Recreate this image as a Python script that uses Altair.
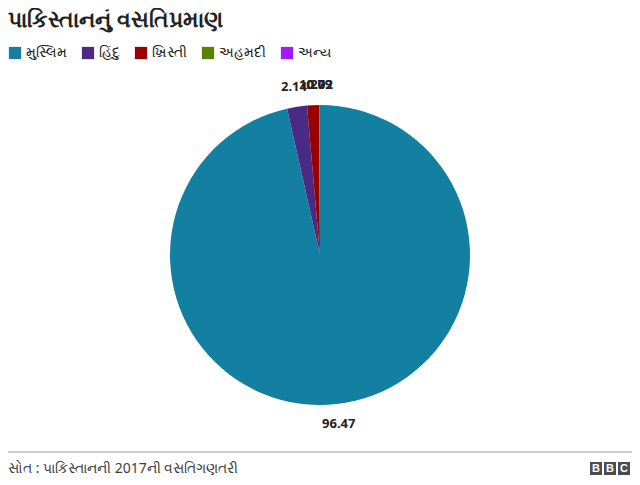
import altair as alt
import pandas as pd

categories = ["મુસ્લિમ", "હિંદુ", "ખ્રિસ્તી", "અહમદી", "અન્ય"]
values = [96.47, 2.14, 1.27, 0.09, 0.02]
colors = ["#1380A1", "#4B2A86", "#990000", "#588300", "#A21AFF"]
title_text = "પાકિસ્તાનનું વસતિપ્રમાણ"
source_text = "સોત : પાકિસ્તાનની 2017ની વસતિગણતરી"

FONT = "Noto Sans"

df = pd.DataFrame({"cat": categories, "val": values, "ord": list(range(len(categories)))})
df["label"] = [f"{v:.2f}" for v in values]

W, H = 624, 469
CX, CY = 312, 247

color = alt.Color(
    "cat:N",
    scale=alt.Scale(domain=categories, range=colors),
    sort=categories,
    legend=alt.Legend(
        title=None,
        orient="none",
        legendX=0,
        legendY=38,
        direction="horizontal",
        symbolType="square",
        symbolSize=150,
        symbolStrokeWidth=0,
        labelFontSize=14,
        labelFont=FONT,
        labelColor="#222222",
        columnPadding=14,
        symbolOpacity=1,
    ),
)

base = alt.Chart(df).encode(
    theta=alt.Theta("val:Q", stack=True),
    order=alt.Order("ord:Q"),
)

pie = base.mark_arc(radius=150, x=CX, y=CY).encode(color=color)

labels = base.mark_text(
    radius=170, x=CX, y=CY, fontSize=13, fontWeight="bold", font=FONT, color="#222222"
).encode(text="label:N")

title = alt.Chart(pd.DataFrame({"t": [title_text]})).mark_text(
    align="left", baseline="middle", fontSize=22, fontWeight="bold", font=FONT, color="#222222"
).encode(text="t:N", x=alt.value(0), y=alt.value(12))

rule = alt.Chart(pd.DataFrame({"a": [0]})).mark_rule(color="#999999", strokeWidth=1).encode(
    x=alt.value(0), x2=alt.value(W), y=alt.value(444)
)

source = alt.Chart(pd.DataFrame({"t": [source_text]})).mark_text(
    align="left", baseline="middle", fontSize=14, font=FONT, color="#404040"
).encode(text="t:N", x=alt.value(0), y=alt.value(461))

logo_layers = []
for i, letter in enumerate(["B", "B", "C"]):
    x0 = 582 + i * 14
    logo_layers.append(
        alt.Chart(pd.DataFrame({"t": [letter]})).mark_rect(color="#4d4d4d").encode(
            x=alt.value(x0), x2=alt.value(x0 + 12), y=alt.value(454), y2=alt.value(467)
        )
    )
    logo_layers.append(
        alt.Chart(pd.DataFrame({"t": [letter]})).mark_text(
            align="center", baseline="middle", fontSize=11, fontWeight="bold", font="Liberation Sans", color="white"
        ).encode(text="t:N", x=alt.value(x0 + 6), y=alt.value(461))
    )

chart = alt.layer(pie, labels, title, rule, source, *logo_layers).properties(
    width=W, height=H, autosize=alt.AutoSizeParams(type="none"), padding=0, background="white"
).configure_view(stroke=None)

chart.save("out.html", embed_options={"renderer": "svg", "actions": False})
